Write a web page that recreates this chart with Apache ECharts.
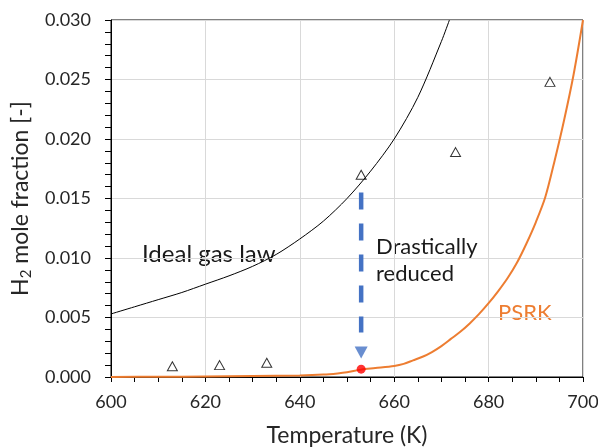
<!DOCTYPE html>
<html>
<head>
<meta charset="utf-8">
<script src="https://cdn.jsdelivr.net/npm/echarts@6/dist/echarts.min.js"></script>
<style>
  html, body { margin: 0; padding: 0; background: #fff; }
  #chart { width: 598px; height: 447px; }
</style>
</head>
<body>
<div id="chart"></div>
<script>
// ideal gas law curve
const idealT = [600, 605, 610, 615, 620, 625, 630, 635, 640, 645, 650, 655, 660, 665, 670, 671.7]
const idealY = [0.0053, 0.0059, 0.0065, 0.0071, 0.0078, 0.0085, 0.0093, 0.0103, 0.0116, 0.0131, 0.0150, 0.0173, 0.0200, 0.0235, 0.0282, 0.0300]

// PSRK curve
const psrkT = [600, 610, 620, 630, 640, 645, 648, 650, 653, 656, 660, 662, 664, 666, 668, 670, 672, 674, 676, 678, 680, 682, 684, 686, 688, 690, 692, 694, 696, 698, 700]
const psrkY = [0.0000, 0.00002, 0.00004, 0.00008, 0.00013, 0.0002, 0.0003, 0.0004, 0.00062, 0.00075, 0.00093, 0.0011, 0.0014, 0.0017, 0.0021, 0.0026, 0.0032, 0.0038, 0.0045, 0.0053, 0.0062, 0.0072, 0.0083, 0.0096, 0.0112, 0.0130, 0.0151, 0.0182, 0.0216, 0.0254, 0.0300]

// experimental points (triangles)
const expT = [613, 623, 633, 653, 673, 693]
const expY = [0.0009, 0.0010, 0.0012, 0.0170, 0.0189, 0.0248]

// highlighted PSRK point and the arrow
const dotT = [653]
const dotY = [0.00066]
const arrowT = [653, 653]
const arrowY = [0.0155, 0.00375]
const arrowHeadT = [653]
const arrowHeadY = [0.00206]

const zip = (xs, ys) => xs.map((x, i) => [x, ys[i]])

const FONT = 'Lato, "Noto Sans", sans-serif'
const TXT = '#262626'

const chart = echarts.init(document.getElementById('chart'), null, { renderer: 'canvas' })

chart.setOption({
  animation: false,
  backgroundColor: '#fff',
  grid: {
    left: 111, right: 15, top: 20, bottom: 70,
    outerBoundsMode: 'none',
    show: true, borderColor: '#000', borderWidth: 1,
  },
  xAxis: {
    type: 'value',
    min: 600, max: 700, interval: 20,
    name: 'Temperature (K)',
    nameLocation: 'middle',
    nameGap: 47,
    nameTextStyle: { color: TXT, fontFamily: FONT, fontSize: 23 },
    axisLine: { onZero: false, lineStyle: { color: '#000', width: 1 } },
    axisTick: { show: true, inside: false, length: 5, lineStyle: { color: '#000' } },
    minorTick: { show: true, splitNumber: 4, length: 5, lineStyle: { color: '#000' } },
    axisLabel: { color: TXT, fontFamily: FONT, fontSize: 18, margin: 16 },
    splitLine: { show: true, lineStyle: { color: '#d9d9d9', width: 1 } },
  },
  yAxis: {
    type: 'value',
    min: 0, max: 0.03, interval: 0.005,
    name: '{a|H}{s|2}{a| mole fraction [-]}',
    nameLocation: 'middle',
    nameGap: 70,
    nameTextStyle: {
      rich: {
        a: { color: TXT, fontFamily: FONT, fontSize: 23, lineHeight: 28 },
        s: { color: TXT, fontFamily: FONT, fontSize: 15, lineHeight: 10, verticalAlign: 'bottom' },
      },
    },
    axisLine: { lineStyle: { color: '#000', width: 1 } },
    axisTick: { show: true, inside: false, length: 6, lineStyle: { color: '#000' } },
    minorTick: { show: true, splitNumber: 5, length: 6, lineStyle: { color: '#000' } },
    axisLabel: { color: TXT, fontFamily: FONT, fontSize: 18, margin: 20, formatter: v => v.toFixed(3) },
    splitLine: { show: true, lineStyle: { color: '#d9d9d9', width: 1 } },
  },
  series: [
    {
      name: 'PSRK',
      type: 'line',
      data: zip(psrkT, psrkY),
      smooth: 0.3,
      symbol: 'none',
      lineStyle: { color: '#ED7D31', width: 2 },
      z: 3,
    },
    {
      name: 'Ideal gas law',
      type: 'line',
      data: zip(idealT, idealY),
      smooth: 0.3,
      symbol: 'none',
      lineStyle: { color: '#000', width: 1 },
      z: 3,
    },
    {
      name: 'arrow',
      type: 'line',
      data: zip(arrowT, arrowY),
      symbol: 'none',
      lineStyle: { color: '#4472C4', width: 4.5, type: [17, 14], cap: 'butt' },
      z: 4,
    },
    {
      name: 'arrowHead',
      type: 'scatter',
      data: zip(arrowHeadT, arrowHeadY),
      symbol: 'triangle',
      symbolRotate: 180,
      symbolSize: [13, 12],
      itemStyle: { color: '#4472C4' },
      z: 4,
    },
    {
      name: 'exp',
      type: 'scatter',
      data: zip(expT, expY),
      symbol: 'triangle',
      symbolSize: [10, 9],
      itemStyle: { color: 'rgba(0,0,0,0)', borderColor: '#000', borderWidth: 1 },
      z: 5,
    },
    {
      name: 'dot',
      type: 'scatter',
      data: zip(dotT, dotY),
      symbol: 'circle',
      symbolSize: 9,
      itemStyle: { color: '#FF0000' },
      z: 6,
    },
  ],
  graphic: [
    { type: 'text', left: 142, top: 242, style: { text: 'Ideal gas law', fill: '#1a1a1a', font: `24px ${FONT}` } },
    { type: 'text', left: 376, top: 233, style: { text: 'Drastically\nreduced', fill: '#1a1a1a', font: `22px ${FONT}`, lineHeight: 27 } },
    { type: 'text', left: 498, top: 302, style: { text: 'PSRK', fill: '#ED7D31', font: `22px ${FONT}` } },
  ],
})
</script>
</body>
</html>
